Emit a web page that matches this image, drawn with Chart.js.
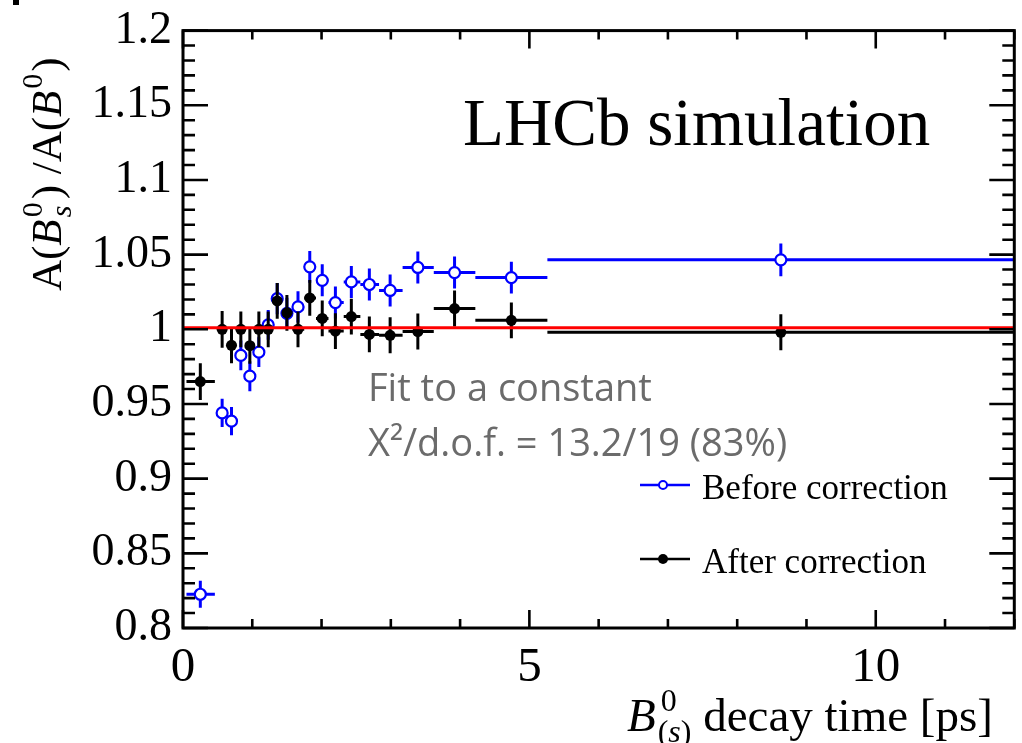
<!DOCTYPE html>
<html>
<head>
<meta charset="utf-8">
<script src="https://cdn.jsdelivr.net/npm/chart.js@4/dist/chart.umd.min.js"></script>
<style>
  html, body { margin:0; padding:0; background:#fff; }
  canvas { display:block; }
</style>
</head>
<body>
<canvas id="c" width="1022" height="743"></canvas>
<script>
// bins of decay time [ps]
const binCenters = [0.25,0.565,0.70,0.835,0.965,1.095,1.23,1.36,1.50,1.66,1.83,2.01,2.20,2.43,2.69,2.99,3.39,3.92,4.74,8.63];
const binLow     = [0.05,0.50,0.63,0.77,0.90,1.03,1.16,1.30,1.43,1.58,1.75,1.92,2.10,2.32,2.56,2.83,3.17,3.62,4.22,5.26];
const binHigh    = [0.46,0.63,0.77,0.90,1.03,1.16,1.30,1.43,1.58,1.75,1.92,2.10,2.32,2.56,2.83,3.17,3.62,4.22,5.26,12];

// ratio before / after correction
const beforeVals = [0.8226,0.944,0.9385,0.9825,0.9686,0.9847,1.003,1.0205,1.0107,1.015,1.0418,1.0328,1.0179,1.0317,1.030,1.026,1.0414,1.038,1.0346,1.0465];
const beforeErr  = [0.009,0.0095,0.0095,0.010,0.010,0.010,0.010,0.0105,0.0105,0.0105,0.0107,0.0107,0.0107,0.0107,0.0107,0.0107,0.0107,0.0107,0.0107,0.011];
const afterVals  = [0.965,1.0,0.9893,1.0,0.989,1.0,1.0,1.019,1.011,1.0,1.021,1.0073,0.9988,1.0085,0.9966,0.996,0.9985,1.0139,1.006,0.998];
const afterErr   = [0.0123,0.0123,0.012,0.012,0.012,0.012,0.012,0.012,0.012,0.012,0.012,0.012,0.012,0.012,0.012,0.012,0.012,0.012,0.012,0.012];

const fitValue = 1.001;
const xTickLabels = [0,5,10];
const yRange = [0.8, 1.2];

const serif = '"Liberation Serif", "Times New Roman", serif';

function pts(vals){ return binCenters.map((x,i)=>({x:x, y:vals[i]})); }

// x/y error bars, drawn just before each dataset's markers
const errBars = {
  id:'errBars',
  beforeDatasetDraw(chart, args){
    const ds = chart.data.datasets[args.index];
    if(!ds.yErr) return;
    const ctx = chart.ctx, xs = chart.scales.x, ys = chart.scales.y, a = chart.chartArea;
    ctx.save();
    ctx.beginPath(); ctx.rect(a.left, a.top, a.right-a.left, a.bottom-a.top); ctx.clip();
    ctx.strokeStyle = ds.borderColor; ctx.lineWidth = 3;
    ds.data.forEach((p,i)=>{
      const px = xs.getPixelForValue(p.x), py = ys.getPixelForValue(p.y);
      ctx.beginPath();
      ctx.moveTo(xs.getPixelForValue(binLow[i]), py);
      ctx.lineTo(xs.getPixelForValue(binHigh[i]), py);
      ctx.moveTo(px, ys.getPixelForValue(p.y - ds.yErr[i]));
      ctx.lineTo(px, ys.getPixelForValue(p.y + ds.yErr[i]));
      ctx.stroke();
    });
    ctx.restore();
  }
};

const frame = {
  id:'frame',
  afterDraw(chart){
    const ctx = chart.ctx, a = chart.chartArea, xs = chart.scales.x, ys = chart.scales.y;
    ctx.save();
    ctx.strokeStyle = '#000'; ctx.lineWidth = 2.6;
    ctx.beginPath();
    xs.ticks.forEach(t=>{
      const px = xs.getPixelForValue(t.value);
      const len = (Math.round(t.value) % 5 === 0) ? 18 : 9;
      ctx.moveTo(px, a.bottom); ctx.lineTo(px, a.bottom - len);
      ctx.moveTo(px, a.top); ctx.lineTo(px, a.top + len);
    });
    ys.ticks.forEach(t=>{
      const py = ys.getPixelForValue(t.value);
      const len = (Math.round(t.value*100) % 5 === 0) ? 25 : 12;
      ctx.moveTo(a.left, py); ctx.lineTo(a.left + len, py);
      ctx.moveTo(a.right, py); ctx.lineTo(a.right - len, py);
    });
    ctx.stroke();
    ctx.lineWidth = 3;
    ctx.strokeRect(a.left, a.top, a.right - a.left, a.bottom - a.top);

    ctx.fillStyle = '#000';
    ctx.fillRect(13, 0, 6, 5);

    ctx.textBaseline = 'alphabetic'; ctx.textAlign = 'left';
    ctx.font = '67px ' + serif;
    ctx.fillText('LHCb simulation', 463, 145);

    // fit result
    ctx.fillStyle = '#6b6b6b';
    ctx.font = '38px "Open Sans", sans-serif';
    ctx.fillText('Fit to a constant', 368, 401);
    ctx.fillText('X\u00b2/d.o.f. = 13.2/19 (83%)', 368, 456);

    // legend
    ctx.lineWidth = 2.6;
    ctx.strokeStyle = '#0000ff';
    ctx.beginPath(); ctx.moveTo(640, 485); ctx.lineTo(690, 485); ctx.stroke();
    ctx.fillStyle = '#fff';
    ctx.beginPath(); ctx.arc(663, 485, 4, 0, Math.PI*2); ctx.fill(); ctx.lineWidth = 2; ctx.stroke();
    ctx.strokeStyle = '#000'; ctx.fillStyle = '#000'; ctx.lineWidth = 2.6;
    ctx.beginPath(); ctx.moveTo(640, 559); ctx.lineTo(690, 559); ctx.stroke();
    ctx.beginPath(); ctx.arc(663, 559, 5, 0, Math.PI*2); ctx.fill();
    ctx.font = '35px ' + serif;
    ctx.fillText('Before correction', 702, 499);
    ctx.fillText('After correction', 702, 573);

    // x title
    let big = '47px ' + serif, bigI = 'italic 47px ' + serif;
    let sm = '32px ' + serif, smI = 'italic 32px ' + serif;
    const x0 = 627, y0 = 731;
    ctx.font = bigI; ctx.fillText('B', x0, y0);
    const cx = x0 + ctx.measureText('B').width + 2;
    ctx.font = sm; ctx.fillText('0', cx + 3, y0 - 20);
    let sx = cx;
    ctx.font = sm; ctx.fillText('(', sx, y0 + 11); sx += ctx.measureText('(').width;
    ctx.font = smI; ctx.fillText('s', sx, y0 + 11); sx += ctx.measureText('s').width;
    ctx.font = sm; ctx.fillText(')', sx, y0 + 11); sx += ctx.measureText(')').width;
    ctx.font = big; ctx.fillText(' decay time [ps]', sx, y0);

    // y title
    big = '43px ' + serif; bigI = 'italic 43px ' + serif;
    sm = '30px ' + serif; smI = 'italic 30px ' + serif;
    ctx.save();
    ctx.translate(61, 291); ctx.rotate(-Math.PI/2);
    let yx = 0;
    ctx.font = big; ctx.fillText('A(', yx, 0); yx += ctx.measureText('A(').width;
    ctx.font = bigI; ctx.fillText('B', yx, 0); yx += ctx.measureText('B').width + 2;
    ctx.font = sm; ctx.fillText('0', yx, -19);
    ctx.font = smI; ctx.fillText('s', yx, 10); yx += ctx.measureText('0').width + 3;
    ctx.font = big; ctx.fillText(') /A(', yx, 0); yx += ctx.measureText(') /A(').width;
    ctx.font = bigI; ctx.fillText('B', yx, 0); yx += ctx.measureText('B').width + 2;
    ctx.font = sm; ctx.fillText('0', yx, -19); yx += ctx.measureText('0').width + 2;
    ctx.font = big; ctx.fillText(')', yx, 0);
    ctx.restore();

    ctx.restore();
  }
};

new Chart(document.getElementById('c'), {
  type:'scatter',
  data:{
    datasets:[
      { type:'line', label:'Fit', data:[{x:0,y:fitValue},{x:12,y:fitValue}],
        borderColor:'#ff0000', borderWidth:3, pointRadius:0, order:0 },
      { label:'After correction', data:pts(afterVals), yErr:afterErr,
        borderColor:'#000', backgroundColor:'#000', pointRadius:5.5, pointBorderWidth:0, order:1 },
      { label:'Before correction', data:pts(beforeVals), yErr:beforeErr,
        borderColor:'#0000ff', backgroundColor:'#fff', pointRadius:5.5, pointBorderWidth:2.2, order:2 }
    ]
  },
  options:{
    responsive:false, animation:false, devicePixelRatio:1,
    layout:{ padding:{ left:0, top:24, right:0, bottom:0 } },
    plugins:{ legend:{display:false}, tooltip:{enabled:false} },
    scales:{
      x:{ type:'linear', min:0, max:12,
        grid:{display:false}, border:{display:false},
        afterFit(s){ s.height = 115; },
        ticks:{ stepSize:1, autoSkip:false, maxRotation:0, padding:3, color:'#000',
          font:{ family:serif, size:49 },
          callback:v => xTickLabels.includes(v) ? String(v) : '' } },
      y:{ min:yRange[0], max:yRange[1],
        grid:{display:false}, border:{display:false},
        afterFit(s){ s.width = 183; },
        ticks:{ stepSize:0.01, autoSkip:false, padding:3, color:'#000',
          font:{ family:serif, size:46 },
          callback:v => Math.round(v*100) % 5 === 0 ? String(parseFloat(v.toFixed(2))) : '' } }
    }
  },
  plugins:[errBars, frame]
});
</script>
</body>
</html>
